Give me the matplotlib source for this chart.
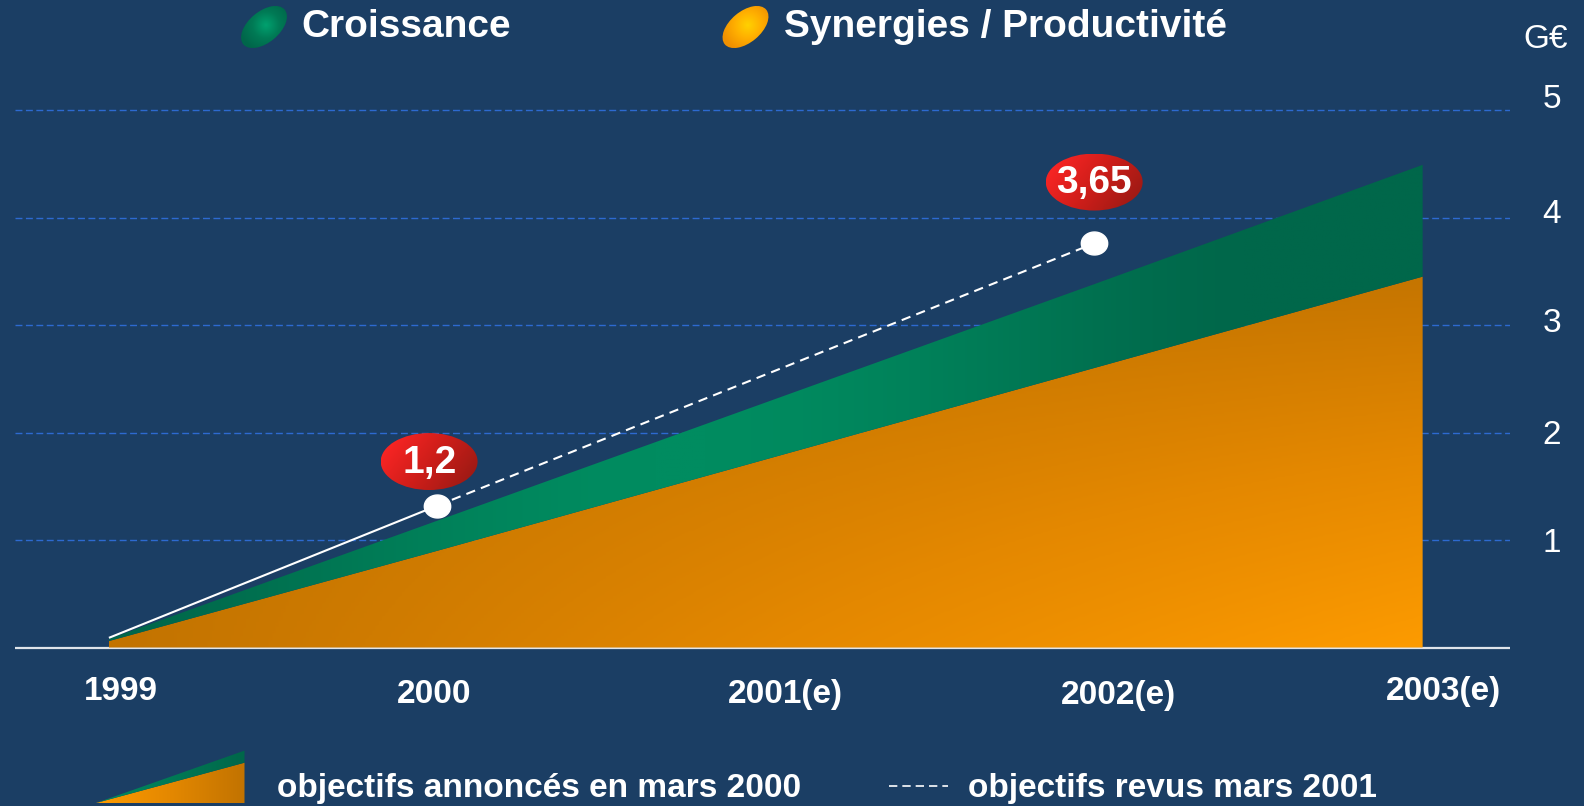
import numpy as np
import matplotlib
matplotlib.use("Agg")
import matplotlib.pyplot as plt
import matplotlib.transforms as mtransforms
from matplotlib.patches import Ellipse, Polygon
from matplotlib.colors import LinearSegmentedColormap
from matplotlib.path import Path

# Data (G€)
#========================================#
years = [1999, 2000, 2001, 2002, 2003]
year_labels = ["1999", "2000", "2001(e)", "2002(e)", "2003(e)"]
synergies = [0.06, 0.90, 1.75, 2.60, 3.45]    # Synergies / Productivité (bottom)
croissance = [0.02, 0.28, 0.53, 0.78, 1.04]   # Croissance (stacked on top)
revised_years = [1999, 2000, 2002]
revised_vals = [0.09, 1.32, 3.76]
bubble_labels = ["1,2", "3,65"]
y_ticks = [1, 2, 3, 4, 5]

# Colours / fonts
#========================================#
BG = "#1b3e64"
NARROW = ["Liberation Sans Narrow", "Liberation Sans", "DejaVu Sans"]
WIDE = ["Liberation Sans", "DejaVu Sans"]
orange_cm = LinearSegmentedColormap.from_list("o", ["#c27300", "#e48800", "#fd9b00"])
green_cm = LinearSegmentedColormap.from_list("g", ["#00674a", "#008c60"])
red_cm = LinearSegmentedColormap.from_list("r", ["#ff2626", "#d01e1a", "#9c1a14"])

fig = plt.figure(figsize=(15.84, 8.06), dpi=100, facecolor=BG)

# main axes: baseline at 647.5 px, 107.5 px per unit, 328.4 px per year
ax = fig.add_axes([15 / 1584, 0.1833, 1495 / 1584, 0.7202])
ax.set_facecolor(BG)
xmin, xmax = 1998.714, 2003.266
ymin, ymax = -0.1, 5.3

# grid lines
for v in y_ticks:
    ax.axhline(v, color="#2d6ad0", lw=1.0, ls=(0, (5, 2.5)), zorder=1)
ax.axhline(0, color="#dfe4ea", lw=1.6, zorder=1)

# stacked area with gradients
yrs = np.array(years, dtype=float)
syn = np.array(synergies)
tot = syn + np.array(croissance)

poly_o = Polygon(list(zip(yrs, syn)) + [(yrs[-1], 0), (yrs[0], 0)],
                 closed=True, fill=False, lw=0)
poly_g = Polygon(list(zip(yrs, tot)) + list(zip(yrs[::-1], syn[::-1])),
                 closed=True, fill=False, lw=0)
ax.add_patch(poly_o)
ax.add_patch(poly_g)

gx = np.linspace(yrs[0], yrs[-1], 400)
gy = np.linspace(0, tot.max(), 300)
X, Y = np.meshgrid(gx, gy)
xn = (X - yrs[0]) / (yrs[-1] - yrs[0])
t_o = np.clip(xn * (1 - Y / 3.6), 0, 1)
im_o = ax.imshow(t_o, extent=(yrs[0], yrs[-1], 0, tot.max()), origin="lower",
                 cmap=orange_cm, aspect="auto", zorder=2, interpolation="bilinear")
im_o.set_clip_path(poly_o)
t_g = np.clip(np.sin(np.pi * np.clip(xn * 1.15, 0, 1)) ** 1.5, 0, 1)
im_g = ax.imshow(t_g, extent=(yrs[0], yrs[-1], 0, tot.max()), origin="lower",
                 cmap=green_cm, aspect="auto", zorder=2, interpolation="bilinear")
im_g.set_clip_path(poly_g)

# revised objectives line
ax.plot(revised_years[:2], revised_vals[:2], color="white", lw=1.5, zorder=3,
        solid_capstyle="butt")
ax.plot(revised_years[1:], revised_vals[1:], color="white", lw=1.5,
        ls=(0, (4.5, 3)), zorder=3)
th = np.linspace(0, 2 * np.pi, 60)
oval = Path(np.column_stack([1.15 * np.cos(th), np.sin(th)]))
ax.plot(revised_years[1:], revised_vals[1:], ls="none", marker=oval, ms=19,
        mfc="white", mec="white", zorder=4)

# red value bubbles
bubble_off = [(-0.025, 0.41), (0.0, 0.57)]
bw, bh = 0.295, 0.53
for xv, yv, lab, (dx, dy) in zip(revised_years[1:], revised_vals[1:], bubble_labels, bubble_off):
    cx, cy = xv + dx, yv + dy
    e = Ellipse((cx, cy), bw, bh, fill=False, lw=0)
    ax.add_patch(e)
    bx = np.linspace(0, 1, 80)
    by = np.linspace(0, 1, 50)
    BX, BY = np.meshgrid(bx, by)
    t_r = np.clip(0.8 * BX + 0.35 * (1 - BY) - 0.05, 0, 1)
    im_r = ax.imshow(t_r, extent=(cx - bw / 2, cx + bw / 2, cy - bh / 2, cy + bh / 2),
                     origin="lower", cmap=red_cm, aspect="auto", zorder=5)
    im_r.set_clip_path(e)
    ax.text(cx, cy - 0.01, lab, color="white", fontsize=28, fontweight="bold",
            family=WIDE, ha="center", va="center", zorder=6)

# x labels (slightly offset as in the original slide)
lab_dx = [0.037, -0.01, 0.06, 0.075, 0.062]
lab_y = [-0.41, -0.44, -0.44, -0.45, -0.41]
for xv, lab, dx, yl in zip(years, year_labels, lab_dx, lab_y):
    ax.text(xv + dx, yl, lab, color="white", fontsize=24, fontweight="bold",
            family=NARROW, ha="center", va="center", clip_on=False)

# y labels on the right
tick_y = [0.965, 1.975, 3.01, 4.03, 5.1]
trans = mtransforms.blended_transform_factory(ax.transAxes, ax.transData)
for v, yl in zip(y_ticks, tick_y):
    ax.text(1.028, yl, str(v), color="white", fontsize=24, family=NARROW,
            ha="center", va="center", transform=trans, clip_on=False)

ax.set_xlim(xmin, xmax)
ax.set_ylim(ymin, ymax)
ax.axis("off")

# overlay axes in pixel coordinates for the legends
ov = fig.add_axes([0, 0, 1, 1])
ov.set_xlim(0, 1584)
ov.set_ylim(806, 0)
ov.axis("off")


def radial_oval(cx, cy, w, h, ang, cmap):
    e = Ellipse((cx, cy), w, h, angle=ang, fill=False, lw=0)
    ov.add_patch(e)
    r = max(w, h) / 2
    xs = np.linspace(cx - r, cx + r, 80)
    ys = np.linspace(cy - r, cy + r, 80)
    XX, YY = np.meshgrid(xs, ys)
    d = np.hypot(XX - (cx + 2), YY - (cy - 2)) / r
    im = ov.imshow(np.clip(d, 0, 1), extent=(cx - r, cx + r, cy - r, cy + r),
                   origin="lower", cmap=cmap, aspect="auto", zorder=3)
    im.set_clip_path(e)


radial_oval(264, 27, 54, 31, -40,
            LinearSegmentedColormap.from_list("lg", ["#00a06e", "#007a55", "#00664a"]))
radial_oval(745.5, 27, 54, 31, -40,
            LinearSegmentedColormap.from_list("lo", ["#ffd000", "#ffae00", "#f09000"]))
ov.text(301, 27, "Croissance", color="white", fontsize=28, fontweight="bold",
        family=NARROW, ha="left", va="center")
ov.text(784, 27, "Synergies / Productivité", color="white", fontsize=28,
        fontweight="bold", family=NARROW, ha="left", va="center")
ov.text(1546, 39, "G€", color="white", fontsize=24, family=NARROW,
        ha="center", va="center")

# bottom legend: small stacked-area icon
ix0, ix1, iyb = 96, 244.5, 803
tri_o = Polygon([(ix0, iyb), (ix1, 762.7), (ix1, iyb)], closed=True, fill=False, lw=0)
tri_g = Polygon([(ix0, iyb), (ix1, 750.6), (ix1, 762.7)], closed=True, fill=False, lw=0)
ov.add_patch(tri_o)
ov.add_patch(tri_g)
ixs = np.linspace(0, 1, 100)[None, :].repeat(10, axis=0)
im1 = ov.imshow(1 - ixs, extent=(ix0, ix1, 750, iyb), origin="lower",
                cmap=orange_cm, aspect="auto", zorder=3)
im1.set_clip_path(tri_o)
im2 = ov.imshow(1 - ixs, extent=(ix0, ix1, 750, iyb), origin="lower",
                cmap=green_cm, aspect="auto", zorder=3)
im2.set_clip_path(tri_g)
ov.text(277, 789, "objectifs annoncés en mars 2000", color="white", fontsize=24,
        fontweight="bold", family=NARROW, ha="left", va="center")
ov.plot([889, 948], [786, 786], color="white", lw=1.2, ls=(0, (5, 3)))
ov.text(968, 789, "objectifs revus mars 2001", color="white", fontsize=24,
        fontweight="bold", family=NARROW, ha="left", va="center")

fig.savefig("out.png", dpi=100, facecolor=BG)
